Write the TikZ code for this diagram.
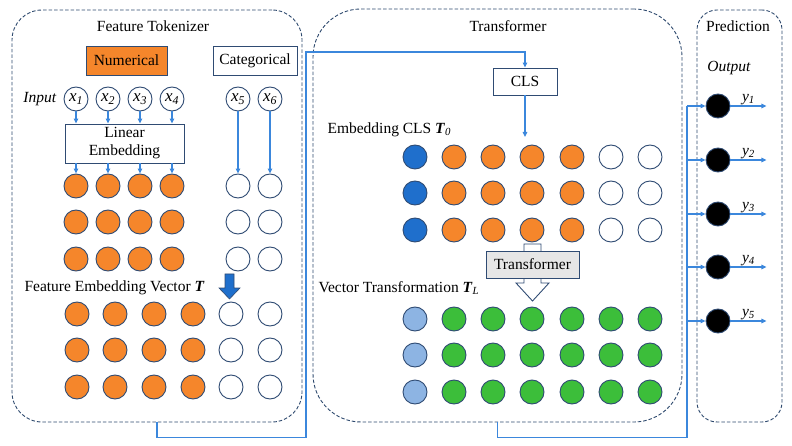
\documentclass[tikz,border=0pt]{standalone}
\usepackage{fontspec}
\setmainfont{Liberation Serif}
\usetikzlibrary{positioning,calc,arrows.meta}
\definecolor{tokorange}{HTML}{F5862B}
\definecolor{clsblue}{HTML}{1F6FCC}
\definecolor{lightcls}{HTML}{8DB4E3}
\definecolor{outgreen}{HTML}{3CBE3A}
\definecolor{dotline}{HTML}{2F4B73}
\definecolor{panelline}{HTML}{2E4A6E}
\definecolor{flowline}{HTML}{3B87DC}
\definecolor{blockgray}{HTML}{E6E6E6}
\newcommand{\itsub}[2]{\textit{#1}\textsubscript{\textit{#2}}}

\tikzset{
  panel/.style={draw=panelline, dash pattern=on 3.5pt off 2pt, line width=0.9pt},
  dot/.style={circle, draw=dotline, line width=0.9pt, minimum size=24pt, inner sep=0pt},
  tagbox/.style={draw=dotline, line width=0.9pt, inner sep=0pt},
  flow/.style={draw=flowline, line width=1.2pt},
  flowarr/.style={flow, -{Triangle[length=5pt,width=4.5pt]}},
}

\begin{document}
\begin{tikzpicture}[x=1pt, y=-1pt, font=\fontsize{15.5}{18}\selectfont]
  \useasboundingbox (0,0) rectangle (792,446);

  % Panels
  \node[panel, rounded corners=30pt, minimum width=290pt, minimum height=412pt] (tok) at (157,216) {};
  \node[panel, rounded corners=48pt, minimum width=369pt, minimum height=413pt] (trf) at (497.5,215.5) {};
  \node[panel, rounded corners=20pt, minimum width=85pt, minimum height=412pt] (pred) at (739.5,216) {};
  \node at (153,26) {Feature Tokenizer};
  \node at (508,26) {Transformer};
  \node at (738,26) {Prediction};

  % Feature Tokenizer
  \node[tagbox, fill=tokorange, minimum width=81pt, minimum height=29pt] (num) at (126.5,60.5) {Numerical};
  \node[tagbox, minimum width=84pt, minimum height=29pt] (cat) at (255,60.5) {Categorical};
  \node[anchor=east] (inp) at (60,99) {\textit{Input}};
  \foreach \i/\x in {1/76,2/108,3/140,4/172,5/238,6/270}
    \node[dot, font=\fontsize{17}{18}\selectfont] (x\i) at (\x,99) {\itsub{x}{\i}};
  \node[tagbox, minimum width=119pt, minimum height=39pt, align=center,
        font=\fontsize{15.5}{18}\selectfont] (lin) at (124.5,143.5) {Linear\\Embedding};
  \foreach \r/\y in {1/186,2/222,3/259}
    \foreach \c/\x/\f in {1/76/tokorange,2/108/tokorange,3/140/tokorange,4/172/tokorange,5/238/white,6/270/white}
      \node[dot, fill=\f] (u\r\c) at (\x,\y) {};
  \foreach \i in {1,...,4} {
    \draw[flowarr] (x\i) -- (x\i |- lin.north);
    \draw[flowarr] (x\i |- lin.south) -- (u1\i);
  }
  \foreach \i in {5,6}
    \draw[flowarr] (x\i) -- (u1\i);

  \node[anchor=west] (fev) at (21,288) {Feature Embedding Vector \textbf{\textit{T}}};
  \fill[clsblue, draw=dotline, line width=0.6pt] (225,274) -- (234,274) -- (234,288) -- (240,288)
    -- (229.5,299) -- (219,288) -- (225,288) -- cycle;
  \foreach \r/\y in {1/314,2/350,3/387}
    \foreach \c/\x/\f in {1/77/tokorange,2/115/tokorange,3/154/tokorange,4/193/tokorange,5/231/white,6/270/white}
      \node[dot, fill=\f] (l\r\c) at (\x,\y) {};

  % Transformer
  \node[tagbox, minimum width=64pt, minimum height=27pt] (cls) at (525,81.5) {CLS};
  \coordinate (clsin) at (525,137);
  \draw[flowarr] (cls) -- (clsin);
  \node[anchor=west] (ecls) at (324,130) {Embedding CLS \textbf{\textit{T}}\textsubscript{\textit{0}}};
  \foreach \r/\y in {1/157,2/193,3/230}
    \foreach \c/\x/\f in {1/415/clsblue,2/454/tokorange,3/493/tokorange,4/532/tokorange,5/572/tokorange,6/611/white,7/650/white}
      \node[dot, fill=\f] (a\r\c) at (\x,\y) {};
  \draw[draw=dotline, fill=white, line width=0.9pt] (524,244) -- (541,244) -- (541,283) -- (549,283)
    -- (532.5,301) -- (516,283) -- (524,283) -- cycle;
  \node[draw=dotline, fill=blockgray, line width=0.9pt, minimum width=93pt, minimum height=27pt] (tblk) at (532.5,264.5) {Transformer};
  \node[anchor=west] (vtl) at (315,288) {Vector Transformation \textbf{\textit{T}}\textsubscript{\textit{L}}};
  \foreach \r/\y in {1/319,2/355,3/392}
    \foreach \c/\x/\f in {1/415/lightcls,2/454/outgreen,3/493/outgreen,4/532/outgreen,5/572/outgreen,6/611/outgreen,7/650/outgreen}
      \node[dot, fill=\f] (b\r\c) at (\x,\y) {};

  % Links between panels
  \draw[flowarr] (tok.south) -- ++(0,15) -| (306,52) -| (cls.north);
  \coordinate (bus) at (687,106);
  \draw[flow] (trf.south) -- ++(0,15) -| (bus);

  % Prediction
  \node (outl) at (729,68) {\textit{Output}};
  \foreach \i/\y in {1/106,2/160,3/214,4/267,5/321} {
    \node[dot, fill=black] (o\i) at (718,\y) {};
    \draw[flowarr] (o\i -| bus) -- (o\i);
    \draw[flowarr] (o\i.east) -- ++(36,0) node[midway, above, inner sep=1pt] {\itsub{y}{\i}};
  }
\end{tikzpicture}
\end{document}
